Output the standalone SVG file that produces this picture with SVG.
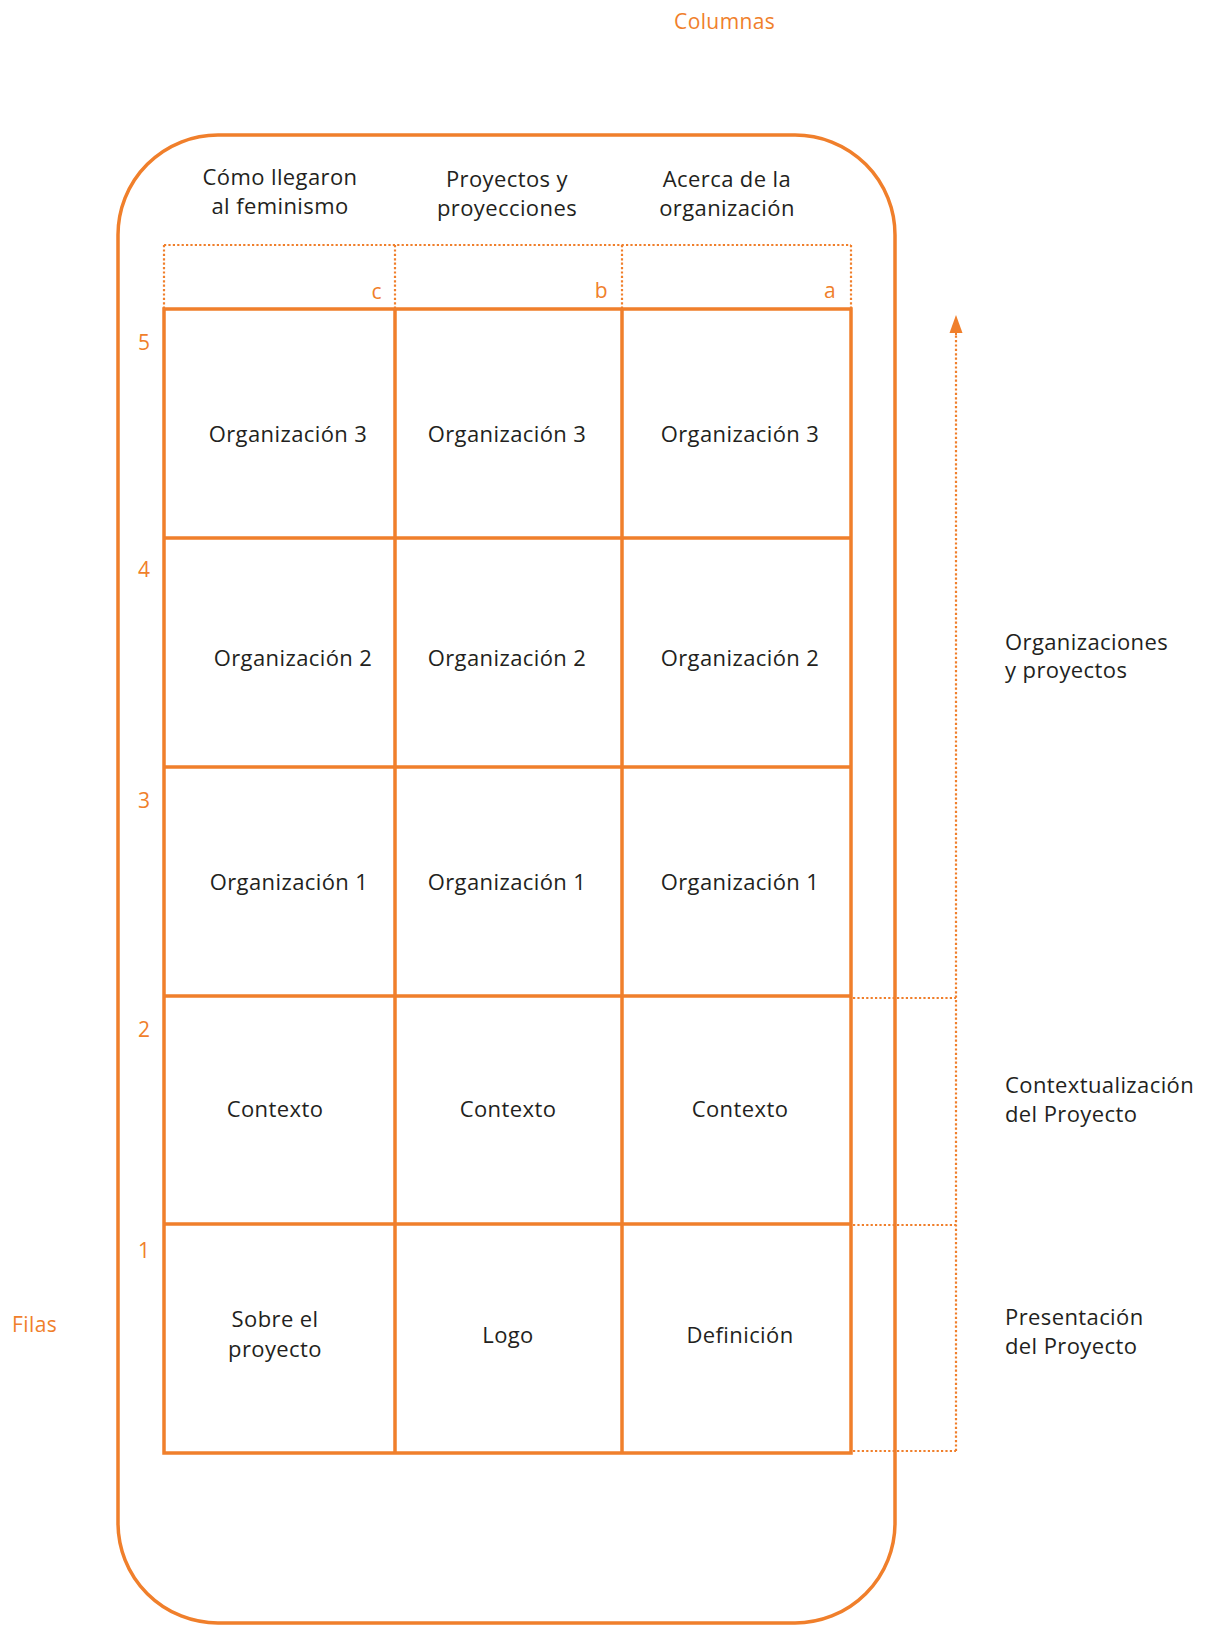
<svg xmlns="http://www.w3.org/2000/svg" width="1207" height="1627" viewBox="0 0 1207 1627">
<style>
.t{font-family:"Open Sans","Noto Sans",sans-serif;font-size:22px;fill:#231f20;letter-spacing:0.4px}
.o{font-family:"Open Sans","Noto Sans",sans-serif;font-size:21px;fill:#f07f2b;letter-spacing:0.4px}
.c{text-anchor:middle}
.e{text-anchor:end}
.cell{fill:none;stroke:#f07f2b;stroke-width:3.5}
.dot{fill:none;stroke:#f07f2b;stroke-width:2.2;stroke-dasharray:2.2 2.2}
</style>
<defs>
<marker id="ah" markerWidth="18" markerHeight="14" refX="0" refY="6.5" orient="auto" markerUnits="userSpaceOnUse" viewBox="0 0 18 13" overflow="visible">
<path d="M0 0 L18 6.5 L0 13 Z" fill="#f07f2b"/>
</marker>
</defs>
<rect width="1207" height="1627" fill="#fff"/>

<g id="frame">
<rect x="118" y="135" width="777" height="1488" rx="100" ry="100" fill="none" stroke="#f07f2b" stroke-width="3.5"/>
</g>

<g id="title-columnas"><text class="o" x="674" y="29">Columnas</text></g>
<g id="title-filas"><text class="o" x="12" y="1332">Filas</text></g>

<g id="header-c"><text class="t c" x="280" y="185">Cómo llegaron</text><text class="t c" x="280" y="214">al feminismo</text></g>
<g id="header-b"><text class="t c" x="507" y="187">Proyectos y</text><text class="t c" x="507" y="216">proyecciones</text></g>
<g id="header-a"><text class="t c" x="727" y="187">Acerca de la</text><text class="t c" x="727" y="216">organización</text></g>

<g id="col-letters">
<text class="o e" x="382" y="299">c</text>
<text class="o e" x="608" y="298">b</text>
<text class="o e" x="836" y="298">a</text>
</g>

<g id="row-numbers">
<text class="o" x="138" y="350">5</text>
<text class="o" x="138" y="577">4</text>
<text class="o" x="138" y="808">3</text>
<text class="o" x="138" y="1037">2</text>
<text class="o" x="138" y="1258">1</text>
</g>

<g id="connectors">
<path class="dot" d="M164 245 H851 M164 245 V309 M851 245 V309"/>
<path class="dot" d="M395 245 V309 M622 245 V309" stroke-dasharray="1.5 1.2"/>
<path class="dot" d="M853 998 H956 M853 1225 H956 M853 1451 H956"/>
<path class="dot" d="M956 1451 V334"/>
<path d="M956 335 L956 333" fill="none" stroke="#f07f2b" stroke-width="2" marker-end="url(#ah)"/>
</g>

<g id="grid-lines">
<rect class="cell" x="164" y="309" width="687" height="1144"/>
<path class="cell" d="M395 309 V1453 M622 309 V1453 M164 538 H851 M164 767 H851 M164 996 H851 M164 1224 H851"/>
</g>

<g id="cell-c5"><text class="t c" x="288" y="442">Organización 3</text></g>
<g id="cell-b5"><text class="t c" x="507" y="442">Organización 3</text></g>
<g id="cell-a5"><text class="t c" x="740" y="442">Organización 3</text></g>

<g id="cell-c4"><text class="t c" x="293" y="666">Organización 2</text></g>
<g id="cell-b4"><text class="t c" x="507" y="666">Organización 2</text></g>
<g id="cell-a4"><text class="t c" x="740" y="666">Organización 2</text></g>

<g id="cell-c3"><text class="t c" x="289" y="890">Organización 1</text></g>
<g id="cell-b3"><text class="t c" x="507" y="890">Organización 1</text></g>
<g id="cell-a3"><text class="t c" x="740" y="890">Organización 1</text></g>

<g id="cell-c2"><text class="t c" x="275" y="1117">Contexto</text></g>
<g id="cell-b2"><text class="t c" x="508" y="1117">Contexto</text></g>
<g id="cell-a2"><text class="t c" x="740" y="1117">Contexto</text></g>

<g id="cell-c1"><text class="t c" x="275" y="1327">Sobre el</text><text class="t c" x="275" y="1357">proyecto</text></g>
<g id="cell-b1"><text class="t c" x="508" y="1343">Logo</text></g>
<g id="cell-a1"><text class="t c" x="740" y="1343">Definición</text></g>

<g id="label-organizaciones"><text class="t" x="1005" y="650">Organizaciones</text><text class="t" x="1005" y="678">y proyectos</text></g>
<g id="label-contextualizacion"><text class="t" x="1005" y="1093">Contextualización</text><text class="t" x="1005" y="1122">del Proyecto</text></g>
<g id="label-presentacion"><text class="t" x="1005" y="1325">Presentación</text><text class="t" x="1005" y="1354">del Proyecto</text></g>
</svg>
